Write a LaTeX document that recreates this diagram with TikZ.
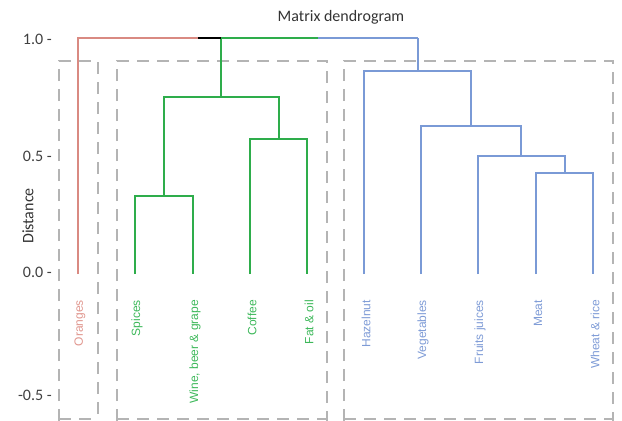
\documentclass[tikz,border=0pt]{standalone}
\usepackage{fontspec}
\setmainfont{Carlito}
\newfontfamily\leaffont{Liberation Sans}
\definecolor{dred}{HTML}{D98A82}
\definecolor{dgreen}{HTML}{2EAD4B}
\definecolor{dblue}{HTML}{7A9AD6}
\definecolor{lred}{HTML}{E0968E}
\definecolor{lgreen}{HTML}{3DB85A}
\definecolor{lblue}{HTML}{7E9BD6}
\definecolor{dgrey}{HTML}{B4B4B4}
\begin{document}
\begin{tikzpicture}[x=0.75pt,y=-0.75pt,
  link/.style={line width=1.5pt},
  grp/.style={draw=dgrey,line width=1.5pt,dash pattern=on 9pt off 6pt},
  leaflab/.style={font=\leaffont\fontsize{9}{10}\selectfont,rotate=90,anchor=east,inner sep=0pt},
  ticklab/.style={font=\fontsize{12}{14}\selectfont,anchor=east,inner sep=0pt,text=black!75}]
\useasboundingbox (0,0) rectangle (622,421);
% groups
\draw[grp] (59,421) -- (59,61) -- (98,61) -- (98,421);
\draw[grp] (117,421) -- (117,61) -- (327,61) -- (327,421);
\draw[grp] (344,421) -- (344,61) -- (613,61) -- (613,421);
\draw[grp] (59,419) -- (98,419);
\draw[grp] (117,419) -- (327,419);
\draw[grp] (344,419) -- (613,419);
% leaves
\foreach \n/\x in {or/78,sp/135,wi/193,co/250,fa/307,ha/364,ve/421,fr/478,me/536,wh/593}
  \coordinate (\n) at (\x,274);
% merge points
\coordinate (sw) at (164,196);
\coordinate (cf) at (279,139);
\coordinate (g) at (221,97);
\coordinate (mw) at (565,173);
\coordinate (fmw) at (521,156);
\coordinate (v) at (471,126);
\coordinate (h) at (418,71);
\coordinate (rr) at (78,38);
\coordinate (rk) at (198,38);
\coordinate (rg) at (221,38);
\coordinate (rgb) at (318,38);
\coordinate (rb) at (418,38);
% green cluster
\draw[link,dgreen] (sp) |- (sw) -| (wi);
\draw[link,dgreen] (co) |- (cf) -| (fa);
\draw[link,dgreen] (sw) |- (g) -| (cf);
\draw[link,dgreen] (g) -- (rg);
% blue cluster
\draw[link,dblue] (me) |- (mw) -| (wh);
\draw[link,dblue] (fr) |- (fmw) -| (mw);
\draw[link,dblue] (ve) |- (v) -| (fmw);
\draw[link,dblue] (ha) |- (h) -| (v);
\draw[link,dblue] (h) -- (rb);
% top
\draw[link,dred] (or) -- (rr) -- (rk);
\draw[link,black] (rk) -- (rg);
\draw[link,dgreen] (rg) -- (rgb);
\draw[link,dblue] (rgb) -- (rb);
% labels
\node[leaflab,text=lred] (lor) at (80,300) {Oranges};
\node[leaflab,text=lgreen] (lsp) at (137,300) {Spices};
\node[leaflab,text=lgreen] (lwi) at (195,300) {Wine, beer \& grape};
\node[leaflab,text=lgreen] (lco) at (252,300) {Coffee};
\node[leaflab,text=lgreen] (lfa) at (309,300) {Fat \& oil};
\node[leaflab,text=lblue] (lha) at (366,300) {Hazelnut};
\node[leaflab,text=lblue] (lve) at (423,300) {Vegetables};
\node[leaflab,text=lblue] (lfr) at (480,300) {Fruits juices};
\node[leaflab,text=lblue] (lme) at (538,300) {Meat};
\node[leaflab,text=lblue] (lwh) at (595,300) {Wheat \& rice};
% axis
\node[ticklab] (t1) at (52,39) {1.0 -};
\node[ticklab] (t2) at (52,156) {0.5 -};
\node[ticklab] (t3) at (52,272) {0.0 -};
\node[ticklab] (t4) at (52,395) {-0.5 -};
\node[font=\fontsize{12}{14}\selectfont,rotate=90,text=black!80] (dist) at (28,216) {Distance};
\node[font=\fontsize{12}{14}\selectfont,text=black!80] (title) at (341,17) {Matrix dendrogram};
\end{tikzpicture}
\end{document}
